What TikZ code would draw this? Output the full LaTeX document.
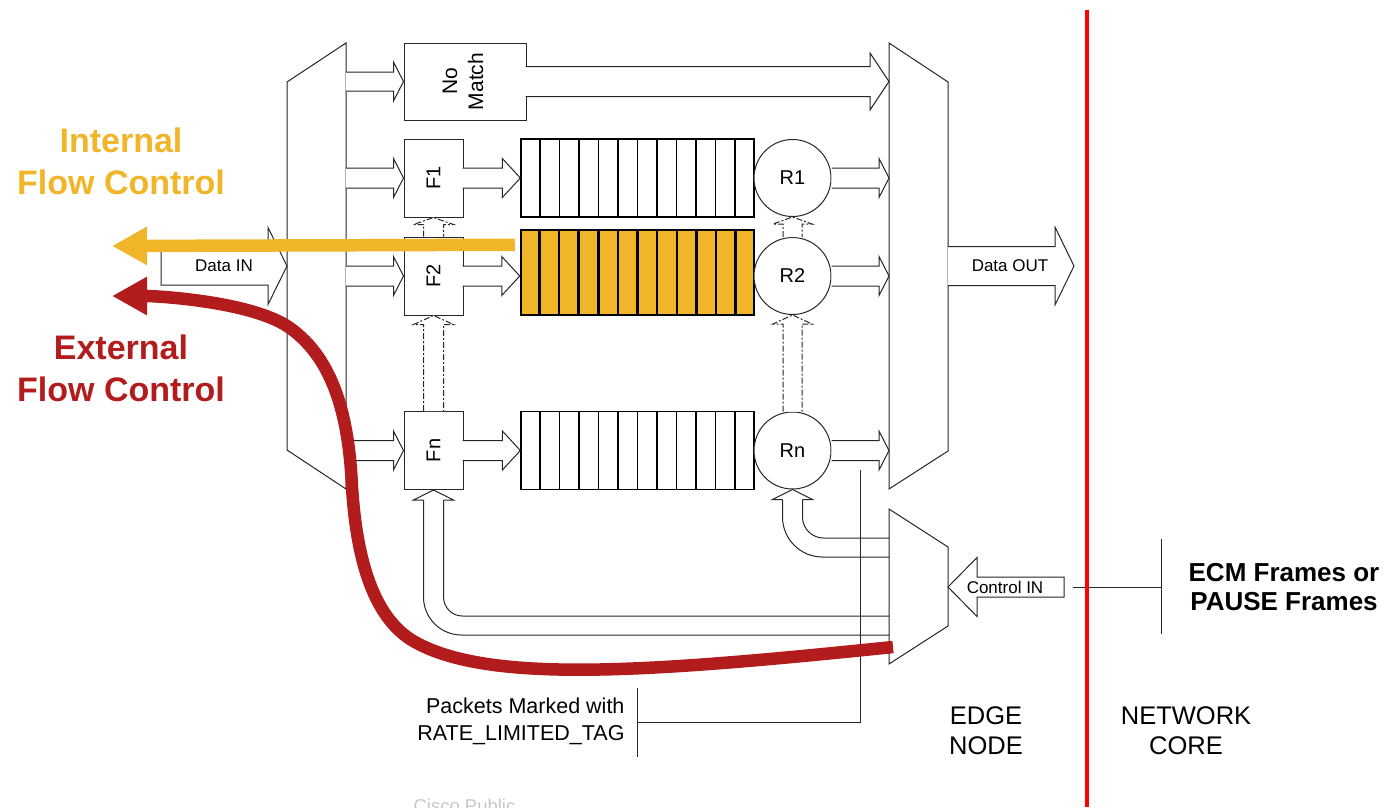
\documentclass[tikz,border=0pt]{standalone}
\usepackage{fontspec}
\setmainfont{Liberation Sans}
\usetikzlibrary{calc,arrows.meta}

\definecolor{intflow}{RGB}{240,181,40}
\definecolor{extflow}{RGB}{178,28,28}

\tikzset{
  thinline/.style={draw=black!85,line width=1pt},
  muxline/.style={thinline,fill=white},
  fat/.style={thinline,fill=white,line join=miter},
  fbox/.style={thinline,fill=white,minimum width=59pt,minimum height=78pt,
    inner sep=0pt,font=\fontsize{20}{24}\selectfont},
  ratecircle/.style={thinline,fill=white,circle,minimum size=77pt,inner sep=0pt,
    font=\fontsize{20}{24}\selectfont},
  queue/.style={draw=black,line width=1.3pt,fill=white,minimum width=233pt,
    minimum height=78pt,inner sep=0pt},
  smalltext/.style={font=\fontsize{17}{20}\selectfont,inner sep=0pt},
  flowarrow/.style={line width=12.5pt,-{Triangle[length=35pt,width=36pt]}},
  biglabel/.style={font=\bfseries\fontsize{34}{42}\selectfont,align=center}
}

% wide outlined arrow from #2 to #3: half body #4, half head #5, head length #6
\newcommand{\fatarrow}[6][]{%
  \path (#3) coordinate (fa tip) ($(#3)!#6pt!(#2)$) coordinate (fa base);
  \filldraw[fat] ($(#2)!#4pt!90:(#3)$) -- ($(fa base)!#4pt!90:(#3)$)
    -- ($(fa base)!#5pt!90:(#3)$) -- (fa tip) -- ($(fa base)!#5pt!-90:(#3)$)
    -- ($(fa base)!#4pt!-90:(#3)$) -- ($(#2)!#4pt!-90:(#3)$) #1;}

\begin{document}
\begin{tikzpicture}[x=1pt,y=-1pt]
  \useasboundingbox (0,0) rectangle (1386,807);

  % demux / mux blocks
  \draw[muxline] (287,82) -- (346,43) -- (346,489) -- (287,450) -- cycle;
  \draw[muxline] (889,43) -- (948,82) -- (948,451) -- (889,489) -- cycle;
  \draw[muxline] (889,509) -- (948,547) -- (948,626) -- (889,664) -- cycle;
  \coordinate (dmx) at (346,0);
  \coordinate (mux) at (889,0);
  \coordinate (din) at (161,266);
  \coordinate (dmx-in) at (287,266);
  \coordinate (mux-out) at (948,266);
  \coordinate (dout) at (1074,266);
  \coordinate (cin) at (1064,587);
  \coordinate (cdmx-in) at (948,587);

  % classifiers, queues, rate limiters
  \node[fbox,minimum width=122pt,minimum height=77pt,font=\fontsize{21}{26}\selectfont]
    (nomatch) at (465,81.5) {\rotatebox{90}{\begin{tabular}{@{}c@{}}No\\Match\end{tabular}}};
  \node[fbox] (F1) at (433.5,178) {\rotatebox{90}{F1}};
  \node[fbox] (F2) at (433.5,276) {\rotatebox{90}{F2}};
  \node[fbox] (Fn) at (433.5,450.5) {\rotatebox{90}{Fn}};
  \node[queue] (Q1) at (637.5,178) {};
  \node[queue,fill=intflow,line width=2.5pt,minimum height=85pt] (Q2) at (637.5,272.5) {};
  \node[queue] (Qn) at (637.5,450.5) {};
  \foreach \q/\w in {Q1/1.3pt,Q2/2.5pt,Qn/1.3pt}
    \foreach \i in {1,...,11}
      \draw[line width=\w] ($(\q.north west)!\i/12!(\q.north east)$)
        -- ($(\q.south west)!\i/12!(\q.south east)$);
  \node[ratecircle] (R1) at (792.5,178) {R1};
  \node[ratecircle] (R2) at (792.5,276) {R2};
  \node[ratecircle] (Rn) at (792.5,450.5) {Rn};

  % data path
  \fatarrow[-- cycle]{din}{dmx-in}{19}{38.5}{19}
  \node[smalltext] (dinlabel) at (224,266) {Data IN};
  \fatarrow{nomatch.west -| dmx}{nomatch.west}{9.5}{19.5}{10}
  \fatarrow{$(nomatch.east)+(-1,0)$}{nomatch.east -| mux}{15}{28.5}{19}
  \foreach \f/\q/\r in {F1/Q1/R1,F2/Q2/R2,Fn/Qn/Rn}{
    \fatarrow{\f.west -| dmx}{\f.west}{10}{19.5}{10}
    \fatarrow{$(\f.east)+(-1,0)$}{\f -| \q.west}{10}{19.5}{18}
    \fatarrow{\r.east}{\r -| mux}{10}{19.5}{10}
  }
  \fatarrow{mux-out}{dout}{19.5}{39}{19}
  \node[smalltext] (doutlabel) at (1010,266) {Data OUT};

  % feedback between stages
  \begin{scope}[fat/.append style={dash pattern=on 6pt off 2pt on 2pt off 2pt}]
    \fatarrow{F2.north}{F1.south}{10}{20}{7}
    \fatarrow{Fn.north}{F2.south}{10}{20}{9}
    \fatarrow{R2.north}{R1.south}{9.5}{19.5}{7}
    \fatarrow{Rn.north}{R2.south}{9.5}{19.5}{9}
  \end{scope}

  % control path
  \fatarrow[-- cycle]{cin}{cdmx-in}{10}{29.5}{29}
  \node[smalltext] (cinlabel) at (1005,587) {Control IN};
  \draw[thinline,rounded corners=21pt] (889,538) -| ($(Rn.south)+(10,10)$);
  \draw[thinline,rounded corners=40pt] (889,557) -| ($(Rn.south)+(-10,10)$);
  \draw[thinline] ($(Rn.south)+(10,10)$) -- ($(Rn.south)+(20,10)$) -- (Rn.south)
    -- ($(Rn.south)+(-20,10)$) -- ($(Rn.south)+(-10,10)$);
  \draw[thinline,rounded corners=19pt] (889,616) -| ($(Fn.south)+(10,10)$);
  \draw[thinline,rounded corners=38pt] (889,635) -| ($(Fn.south)+(-10,10)$);
  \draw[thinline] ($(Fn.south)+(10,10)$) -- ($(Fn.south)+(20,10)$) -- (Fn.south)
    -- ($(Fn.south)+(-20,10)$) -- ($(Fn.south)+(-10,10)$);

  % callouts
  \draw[thinline] (860,470) -- (860,722) -- (637,722);
  \draw[thinline] (637,688) -- (637,757);
  \node[anchor=east,align=right,font=\fontsize{21.5}{27}\selectfont] (tag) at (628,721.5)
    {Packets Marked with\\RATE\_LIMITED\_TAG};
  \draw[thinline] (1073,587) -- (1161,587);
  \draw[thinline] (1161,539) -- (1161,634);
  \node[align=center,font=\bfseries\fontsize{26}{29}\selectfont] (frames) at (1284,587.5)
    {ECM Frames or\\PAUSE Frames};

  % flow control
  \coordinate (int-start) at ($(Q2.north west)+(-5,16)$);
  \coordinate (int-tip) at (112,246);
  \coordinate (ext-start) at (893,647);
  \coordinate (ext-tip) at (112,296);
  \draw[flowarrow,draw=intflow] (int-start) -- (int-tip);
  \draw[flowarrow,draw=extflow] (ext-start)
    .. controls (650,672) and (490,684) .. (415,642)
    .. controls (370,617) and (356,550) .. (352,487)
    .. controls (349,420) and (335,360) .. (290,328)
    .. controls (254,302) and (160,296) .. (ext-tip);
  \node[biglabel,text=intflow] (intlabel) at (121,161) {Internal\\Flow Control};
  \node[biglabel,text=extflow] (extlabel) at (121,368) {External\\Flow Control};

  % domains
  \draw[red,line width=4pt] (1087,10) -- (1087,807);
  \node[align=center,font=\fontsize{25.5}{30}\selectfont] (edge) at (986,731) {EDGE\\NODE};
  \node[align=center,font=\fontsize{25.5}{30}\selectfont] (core) at (1186,731) {NETWORK\\CORE};
  \node[anchor=base west,text=black!22,font=\fontsize{18.5}{22}\selectfont] (footer)
    at (410,812) {Cisco Public};
\end{tikzpicture}
\end{document}
